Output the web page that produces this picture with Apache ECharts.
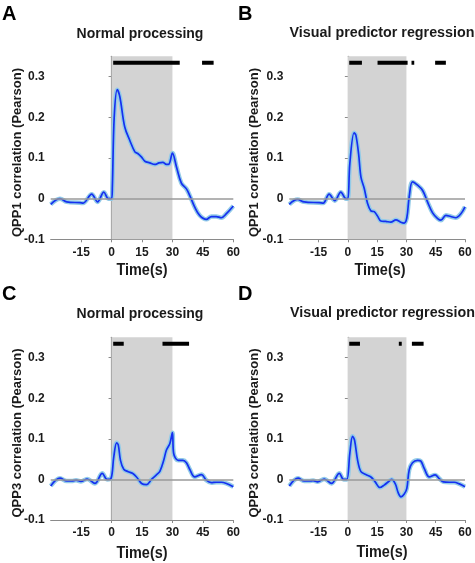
<!DOCTYPE html>
<html><head><meta charset="utf-8">
<script src="https://cdn.jsdelivr.net/npm/echarts@6/dist/echarts.min.js"></script>
<style>html,body{margin:0;padding:0;background:#fff}#c{width:475px;height:563px}</style>
</head><body><div id="c"></div>
<script>
// ---- data ----
const xTicks = [-15, 0, 15, 30, 45, 60];
const yTicks = [-0.1, 0, 0.1, 0.2, 0.3];
const titles = ['Normal processing', 'Visual predictor regression', 'Normal processing', 'Visual predictor regression'];
const letters = ['A', 'B', 'C', 'D'];
const yNames = ['QPP1 correlation (Pearson)', 'QPP1 correlation (Pearson)', 'QPP3 correlation (Pearson)', 'QPP3 correlation (Pearson)'];
const stimWindow = [0, 30];

const tA = [-30,-25.4,-22.1,-15.6,-14,-9.8,-6.9,-3.8,-1.6,0,0.4,1.3,2.8,4.1,6.5,9,11.5,12.9,14.8,16.4,18.8,21.3,23.4,25.3,27,28.3,30,32,34.4,36.9,38.5,41,43.4,46.7,49.2,51.6,54.1,56.6,60];
const vA = [-0.014,0.0,-0.008,-0.01,-0.011,0.011,-0.008,0.016,0.0,0.0,0.03,0.2,0.268,0.25,0.176,0.143,0.115,0.111,0.102,0.092,0.088,0.084,0.088,0.089,0.084,0.085,0.112,0.078,0.038,0.024,0.008,-0.021,-0.041,-0.051,-0.044,-0.044,-0.047,-0.037,-0.018];

const tB = [-30,-25.8,-22.4,-14.7,-12.6,-9.6,-6.7,-3.6,-1,0,1,3.2,4.1,5.5,6.7,8.4,10.1,11.8,13.5,15.2,16.9,19.4,22,24.6,27.1,28.8,30.2,31.4,33.1,35.7,38.3,40.8,43.4,46,47.7,50.2,52.7,55.3,57.9,60];
const vB = [-0.014,-0.002,-0.008,-0.01,-0.011,0.011,-0.005,0.016,0.0,0.0,0.086,0.162,0.156,0.11,0.053,0.025,-0.012,-0.03,-0.032,-0.043,-0.055,-0.056,-0.058,-0.052,-0.058,-0.06,-0.047,0.004,0.041,0.033,0.02,-0.008,-0.035,-0.049,-0.053,-0.041,-0.044,-0.047,-0.037,-0.02];

const tC = [-30,-25.4,-22.1,-19.6,-17.5,-15.1,-12,-8.2,-4.6,-2.2,-0.3,1.1,2.5,3.3,4.4,6,8.2,10.3,12.3,14.8,17.2,19.7,22.1,23.8,25.7,27,28.7,30,30.6,32.8,35.2,36.9,38.5,41,44.3,46.7,49.2,51.6,54.1,56.6,60];
const vC = [-0.016,0.003,-0.004,-0.004,-0.002,-0.005,0.001,-0.01,0.015,0.0,0.002,0.056,0.09,0.085,0.047,0.025,0.019,0.015,0.006,-0.01,-0.013,0.0,0.011,0.02,0.047,0.072,0.088,0.115,0.064,0.047,0.047,0.041,0.025,0.006,0.012,-0.002,-0.008,-0.007,-0.007,-0.01,-0.018];

const tD = [-30,-25.5,-22.4,-19.8,-17.8,-15.5,-12.1,-8.4,-4.4,-2.2,-0.5,1,2.4,3.4,5,6.7,9.2,11.8,14,16.4,18.6,21.2,22.4,24.3,25.8,27.2,28.9,30.2,31.4,33.1,35.7,37.4,39.1,41.7,44.7,46.8,48.9,52,54.5,57.1,60];
const vD = [-0.016,0.003,-0.004,-0.004,-0.003,-0.006,0.001,-0.01,0.015,0.0,0.0,0.064,0.106,0.097,0.047,0.019,0.012,0.006,-0.006,-0.02,-0.014,-0.004,0.0,-0.011,-0.033,-0.043,-0.036,-0.022,0.023,0.041,0.047,0.045,0.027,0.006,0.011,0.002,-0.006,-0.007,-0.007,-0.011,-0.018];

// significance bars [start, end] in seconds
const sigA = [[0.8,33.6],[44.6,50.3]];
const sigB = [[0.7,7.2],[15.2,30.6],[32.6,34.0],[44.7,50.2]];
const sigC = [[0.8,6.0],[25.1,38.2]];
const sigD = [[0.7,6.2],[26.1,27.6],[32.8,38.8]];
const sigLevel = 0.334;

// ---- layout ----
const grids = [
  {left: 50.7, top: 56.3, width: 182.6, height: 183},
  {left: 289.3, top: 56.3, width: 175.7, height: 183},
  {left: 50.7, top: 337.3, width: 182.6, height: 182.7},
  {left: 289.3, top: 337.3, width: 175.7, height: 182.7}
];
const panels = [[tA,vA,sigA],[tB,vB,sigB],[tC,vC,sigC],[tD,vD,sigD]];
const titlePos = [[140,34.3,14],[382,32.7,14.3],[140,314.3,14],[382.5,312.7,14.3]];
const letterPos = [[2,14],[238,14],[2,294],[238,294]];
const yNamePos = [[17.5,152.5],[254.3,152.5],[17.5,433],[254.3,433]];
const xNamePos = [[142,270],[380,270],[142,553],[382,552]];

const axisGrey = '#8a8a8a';
const tickFont = {color:'#1a1a1a', fontFamily:'"Liberation Sans", Arial', fontWeight:'bold', fontSize:12};

const xAxes = [], yAxes = [], series = [], graphics = [];
panels.forEach((p, i) => {
  const [ts, vs, sig] = p;
  xAxes.push({
    gridIndex: i, type: 'value', min: -30, max: 60, interval: 15,
    axisLine: {onZero: false, lineStyle: {color: axisGrey, width: 1.2}},
    axisTick: {show: true, length: 3, lineStyle: {color: axisGrey}},
    splitLine: {show: false},
    axisLabel: Object.assign({margin: 7, showMinLabel: false,
      formatter: v => xTicks.includes(v) ? String(v) : ''}, tickFont)
  });
  yAxes.push({
    gridIndex: i, type: 'value', min: -0.1, max: 0.35, interval: 0.1,
    axisLine: {show: true, lineStyle: {color: axisGrey, width: 1.2}},
    axisTick: {show: true, length: 3, lineStyle: {color: axisGrey}},
    splitLine: {show: false},
    axisLabel: Object.assign({margin: 6, showMaxLabel: false,
      formatter: v => { const r = Math.round(v*10)/10; return yTicks.some(t => Math.abs(t - v) < 1e-6) ? String(r) : ''; }}, tickFont)
  });
  const pts = ts.map((t, k) => [t, vs[k]]);
  series.push({
    type: 'line', xAxisIndex: i, yAxisIndex: i, data: [], silent: true, z: 1,
    markArea: {silent: true, itemStyle: {color: '#d3d3d3'}, data: [[{xAxis: stimWindow[0]}, {xAxis: stimWindow[1]}]]}
  });
  series.push({
    type: 'line', xAxisIndex: i, yAxisIndex: i, data: [], silent: true, z: 2,
    markLine: {silent: true, symbol: 'none', label: {show: false},
      lineStyle: {color: '#9a9a9a', width: 1.5, type: 'solid'}, data: [{yAxis: 0}]}
  });
  series.push({
    type: 'line', xAxisIndex: i, yAxisIndex: i, data: pts, smooth: 0.35, symbol: 'none', silent: true, z: 3,
    lineStyle: {color: '#93cbe8', width: 4.5}
  });
  series.push({
    type: 'line', xAxisIndex: i, yAxisIndex: i, data: pts, smooth: 0.35, symbol: 'none', silent: true, z: 4,
    lineStyle: {color: '#1530f0', width: 1.7}
  });
  const sd = [];
  sig.forEach(s => { sd.push([s[0], sigLevel], [s[1], sigLevel], [null, null]); });
  series.push({
    type: 'line', xAxisIndex: i, yAxisIndex: i, data: sd, symbol: 'none', silent: true, z: 5,
    connectNulls: false, lineStyle: {color: '#000', width: 4, cap: 'butt'}
  });

  graphics.push({type: 'text', x: titlePos[i][0], y: titlePos[i][1],
    style: {text: titles[i], align: 'center', verticalAlign: 'middle', fill: '#1a1a1a',
      font: 'bold ' + titlePos[i][2] + 'px "Liberation Sans", Arial'}});
  graphics.push({type: 'text', x: letterPos[i][0], y: letterPos[i][1],
    style: {text: letters[i], align: 'left', verticalAlign: 'middle', fill: '#000',
      font: 'bold 20px "Liberation Sans", Arial'}});
  graphics.push({type: 'text', x: yNamePos[i][0], y: yNamePos[i][1], rotation: Math.PI/2,
    style: {text: yNames[i], align: 'center', verticalAlign: 'middle', fill: '#1a1a1a',
      font: 'bold 13px "Liberation Sans", Arial'}});
  graphics.push({type: 'text', x: xNamePos[i][0], y: xNamePos[i][1], scaleX: 0.85,
    style: {text: 'Time(s)', align: 'center', verticalAlign: 'middle', fill: '#1a1a1a',
      font: 'bold 17px "Liberation Sans", Arial'}});
});

const chart = echarts.init(document.getElementById('c'), null, {renderer: 'canvas'});
chart.setOption({
  animation: false,
  backgroundColor: '#fff',
  grid: grids.map(g => Object.assign({containLabel: false}, g)),
  xAxis: xAxes, yAxis: yAxes, series: series, graphic: graphics
});
</script></body></html>
